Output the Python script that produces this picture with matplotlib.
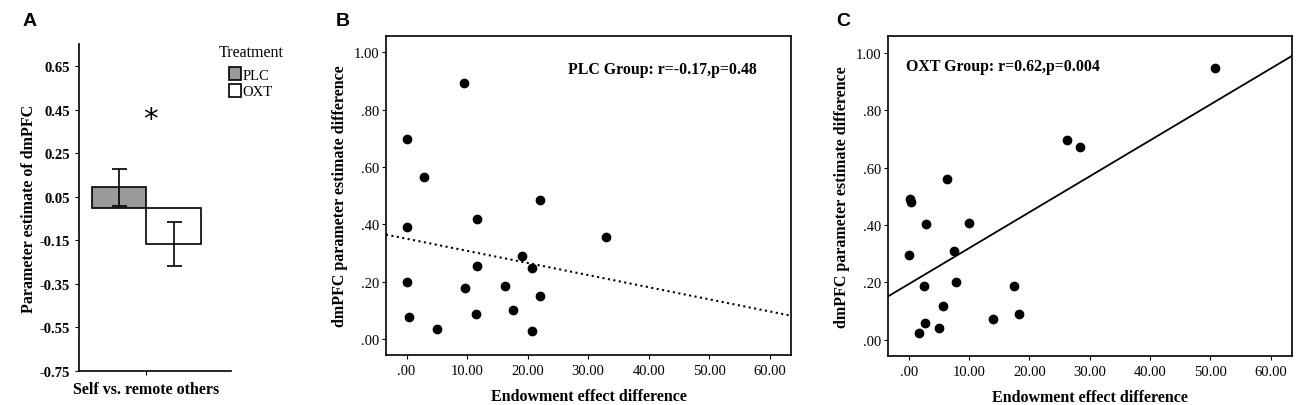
import numpy as np
import matplotlib
matplotlib.use("Agg")
import matplotlib.pyplot as plt
from matplotlib.patches import Patch

plt.rcParams['font.family'] = ['Liberation Serif', 'DejaVu Serif']

# panel A
groups = ["PLC", "OXT"]
means = [0.093, -0.166]
errs = [0.086, 0.102]
bar_colors = ["#9a9a9a", "white"]
a_ticks = [0.65, 0.45, 0.25, 0.05, -0.15, -0.35, -0.55, -0.75]

# panel B (PLC)
plc_x = [9.5, 0.0, 2.9, 22.1, 11.6, 0.0, 32.9, 19.1, 11.6, 20.8,
         0.0, 9.7, 16.2, 22.1, 17.6, 11.4, 0.4, 4.95, 20.8]
plc_y = [0.892, 0.699, 0.564, 0.486, 0.419, 0.392, 0.355, 0.290, 0.256, 0.247,
         0.200, 0.177, 0.184, 0.151, 0.102, 0.087, 0.077, 0.035, 0.028]
plc_fit = [-0.00423, 0.3496]

# panel C (OXT)
oxt_x = [50.8, 26.2, 28.3, 6.27, 0.17, 0.39, 2.92, 10.0, 7.48, 0.0,
         2.48, 7.87, 17.5, 5.72, 2.7, 14.0, 18.3, 4.95, 1.65]
oxt_y = [0.948, 0.695, 0.671, 0.560, 0.492, 0.480, 0.403, 0.408, 0.310, 0.297,
         0.188, 0.200, 0.188, 0.116, 0.059, 0.073, 0.090, 0.041, 0.023]
oxt_fit = [0.01253, 0.194]

x_ticks = [0, 10, 20, 30, 40, 50, 60]
y_ticks = [0.0, 0.2, 0.4, 0.6, 0.8, 1.0]

fig = plt.figure(figsize=(13, 4.06), dpi=100)

# ---- A
ax = fig.add_axes([0.0608, 0.0837, 0.1169, 0.805])
w = 0.36
xs = [-w / 2, w / 2]
ax.bar(xs, means, width=w, color=bar_colors, edgecolor="black", linewidth=1.2)
ax.errorbar(xs, means, yerr=errs, fmt="none", ecolor="black", elinewidth=1.2,
            capsize=5.4, capthick=1.2)
ax.text(0.025, 0.405, "*", ha="center", va="center", fontsize=21, family="DejaVu Sans")
ax.set_xlim(-0.445, 0.56)
ax.set_ylim(-0.75, 0.75)
ax.set_yticks(a_ticks)
ax.set_yticklabels(["%.2f" % t for t in a_ticks], fontweight="bold", fontsize=10.5)
ax.set_xticks([0])
ax.set_xticklabels([""])
ax.set_xlabel("Self vs. remote others", fontweight="bold", fontsize=11.5, labelpad=1)
ax.xaxis.set_label_coords(0.443, -0.03, transform=ax.transAxes)
ax.xaxis.label.set_va("top")
ax.set_ylabel("Parameter estimate of dmPFC", fontweight="bold", fontsize=11.5, labelpad=2)
ax.spines["top"].set_visible(False)
ax.spines["right"].set_visible(False)
for s in ["left", "bottom"]:
    ax.spines[s].set_linewidth(1.2)
ax.tick_params(length=3)
handles = [Patch(facecolor=c, edgecolor="black", linewidth=1.2) for c in bar_colors]
ax.legend(handles, groups, loc="upper left", bbox_to_anchor=(0.987, 0.93),
          frameon=False, fontsize=10.5, handlelength=0.8, handleheight=1.0,
          handletextpad=0.1, labelspacing=0.15, borderpad=0, borderaxespad=0)
ax.text(1.135, 0.9755, "Treatment", transform=ax.transAxes, ha="center",
        va="center", fontsize=11.5, clip_on=False)
fig.text(0.0175, 0.936, "A", fontsize=14, fontweight="bold", family="Liberation Sans")


def scatter_panel(rect, xv, yv, fit, style, label, tx, ty, ha, letter, lx):
    ax = fig.add_axes(rect)
    ax.scatter(xv, yv, s=36, color="black", zorder=3)
    xl = np.array([-3.4, 63.5])
    ax.plot(xl, fit[0] * xl + fit[1], color="black", linestyle=style,
            linewidth=1.5 if style == ":" else 1.3)
    ax.set_xlim(-3.4, 63.5)
    ax.set_ylim(-0.056, 1.058)
    ax.set_xticks(x_ticks)
    ax.set_xticklabels([(".00" if t == 0 else "%.2f" % t) for t in x_ticks], fontsize=10.5)
    ax.set_yticks(y_ticks)
    ax.set_yticklabels([("1.00" if t == 1 else ("%.2f" % t)[1:]) for t in y_ticks], fontsize=10.5)
    ax.set_xlabel("Endowment effect difference", fontweight="bold", fontsize=11.5, labelpad=8)
    ax.set_ylabel("dmPFC parameter estimate difference", fontweight="bold", fontsize=11.5, labelpad=4)
    for s in ax.spines.values():
        s.set_linewidth(1.2)
    ax.tick_params(length=3, pad=2)
    ax.tick_params(axis="x", pad=3.5)
    ax.text(tx, ty, label, ha=ha, va="center", fontweight="bold", fontsize=11.4)
    fig.text(lx, 0.936, letter, fontsize=14, fontweight="bold", family="Liberation Sans")
    return ax


scatter_panel([0.2969, 0.1232, 0.3115, 0.7865], plc_x, plc_y, plc_fit, ":",
              "PLC Group: r=-0.17,p=0.48", 57.8, 0.942, "right", "B", 0.258)
scatter_panel([0.6833, 0.1214, 0.3105, 0.7867], oxt_x, oxt_y, oxt_fit, "-",
              "OXT Group: r=0.62,p=0.004", -0.4, 0.953, "left", "C", 0.6436)

fig.savefig("out.png", dpi=100)
